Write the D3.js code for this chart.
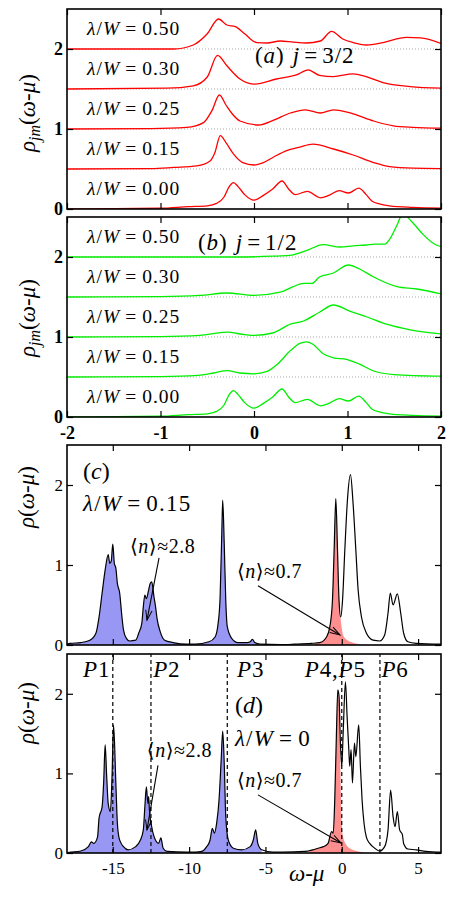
<!DOCTYPE html>
<html><head><meta charset="utf-8">
<script src="https://cdn.jsdelivr.net/npm/d3@7"></script>
<style>body{margin:0;background:#fff} svg{display:block}</style>
</head><body><svg id="fig" width="450" height="900"></svg>
<script>
// ---------------- DATA ----------------
const xTicksAB = [-2, -1, 0, 1, 2];
const yTicksAB = [0, 1, 2];
const xTicksCD = [-15, -10, -5, 0, 5];
const yTicksCD = [0, 1, 2];
const lamLabels = ["0.00", "0.15", "0.25", "0.30", "0.50"];
const offsets = [0, 0.5, 1.0, 1.5, 2.0];

// panel (a) j=3/2, values relative to each curve's offset
const j32_L000 = [[-2,0],[-1.5,0.005],[-1.0,0.01],[-0.7,0.03],[-0.5,0.04],[-0.4,0.07],[-0.32,0.15],[-0.27,0.27],[-0.22,0.33],[-0.17,0.28],[-0.1,0.18],[0,0.11],[0.1,0.17],[0.2,0.25],[0.30,0.35],[0.37,0.25],[0.44,0.18],[0.57,0.22],[0.71,0.14],[0.80,0.17],[0.91,0.23],[1.01,0.20],[1.12,0.26],[1.2,0.18],[1.26,0.10],[1.35,0.06],[1.45,0.04],[1.7,0.02],[2.0,0.01]];
const j32_L015 = [[-2,0],[-1.1,0.005],[-0.86,0.02],[-0.61,0.04],[-0.47,0.1],[-0.42,0.2],[-0.36,0.417],[-0.3,0.33],[-0.22,0.19],[-0.12,0.08],[0,0.05],[0.1,0.08],[0.21,0.15],[0.35,0.23],[0.48,0.27],[0.63,0.31],[0.85,0.25],[1.06,0.175],[1.28,0.08],[1.45,0.03],[1.7,0.01],[2.0,0.005]];
const j32_L025 = [[-2,0],[-1.1,0.005],[-0.72,0.02],[-0.54,0.08],[-0.45,0.23],[-0.37,0.425],[-0.3,0.3],[-0.24,0.2],[-0.15,0.10],[0.05,0.05],[0.21,0.11],[0.39,0.20],[0.55,0.24],[0.71,0.20],[0.85,0.24],[1.06,0.19],[1.28,0.10],[1.49,0.04],[1.7,0.02],[2.0,0.01]];
const j32_L030 = [[-2,0],[-0.93,0.01],[-0.65,0.04],[-0.5,0.15],[-0.39,0.42],[-0.29,0.29],[-0.15,0.125],[0.01,0.06],[0.24,0.125],[0.46,0.18],[0.58,0.24],[0.7,0.17],[0.85,0.155],[1.06,0.19],[1.2,0.155],[1.38,0.08],[1.67,0.03],[2.0,0.01]];
const j32_L050 = [[-2,0],[-0.86,0.0],[-0.65,0.05],[-0.5,0.19],[-0.38,0.375],[-0.29,0.30],[-0.20,0.28],[-0.1,0.19],[0.03,0.08],[0.14,0.075],[0.28,0.10],[0.42,0.085],[0.56,0.075],[0.71,0.10],[0.83,0.22],[0.95,0.125],[1.06,0.08],[1.2,0.05],[1.38,0.08],[1.63,0.145],[1.78,0.14],[2.0,0.07]];

// panel (b) j=1/2
const j12_L000 = j32_L000;
const j12_L015 = [[-2,0],[-1.0,0.005],[-0.6,0.02],[-0.43,0.05],[-0.29,0.08],[-0.15,0.05],[0,0.04],[0.14,0.07],[0.25,0.16],[0.39,0.33],[0.49,0.42],[0.56,0.44],[0.63,0.41],[0.74,0.29],[0.85,0.24],[0.99,0.22],[1.13,0.16],[1.28,0.075],[1.5,0.03],[2.0,0.01]];
const j12_L025 = [[-2,0],[-1.0,0.005],[-0.58,0.02],[-0.29,0.06],[-0.1,0.03],[0,0.02],[0.2,0.05],[0.39,0.16],[0.53,0.2],[0.70,0.31],[0.85,0.40],[1.03,0.32],[1.21,0.25],[1.42,0.16],[1.67,0.09],[2.0,0.04]];
const j12_L030 = [[-2,0],[-1.0,0.005],[-0.58,0.02],[-0.29,0.05],[0,0.02],[0.28,0.06],[0.42,0.13],[0.53,0.17],[0.62,0.17],[0.70,0.25],[0.85,0.30],[1.01,0.40],[1.13,0.35],[1.28,0.25],[1.53,0.13],[1.74,0.10],[2.0,0.04]];
const j12_L050 = [[-2,0],[-0.2,0.0],[0.2,0.01],[0.38,0.02],[0.56,0.08],[0.74,0.155],[0.92,0.125],[1.06,0.14],[1.2,0.15],[1.30,0.16],[1.40,0.16],[1.45,0.22],[1.53,0.40],[1.6,0.56],[1.65,0.49],[1.72,0.40],[1.81,0.28],[1.95,0.15],[2.0,0.13]];

// panel (c) lambda/W = 0.15 total DOS, and red partial
const totC = [[-18,0.01],[-17.8,0.02],[-17.1,0.03],[-16.5,0.06],[-16.1,0.15],[-15.9,0.35],[-15.7,0.65],[-15.5,0.94],[-15.3,1.13],[-15.2,1.02],[-15.1,1.05],[-15.0,1.26],[-14.9,1.02],[-14.8,0.96],[-14.7,0.77],[-14.55,0.65],[-14.4,0.35],[-14.3,0.19],[-14.1,0.08],[-13.9,0.05],[-13.5,0.06],[-13.3,0.15],[-13.1,0.27],[-13.0,0.48],[-12.9,0.625],[-12.8,0.58],[-12.65,0.69],[-12.55,0.77],[-12.45,0.79],[-12.3,0.60],[-12.2,0.48],[-12.1,0.33],[-11.9,0.17],[-11.6,0.06],[-11.05,0.03],[-10.15,0.01],[-9.6,0.01],[-8.7,0.04],[-8.3,0.10],[-8.1,0.27],[-7.97,0.60],[-7.86,1.40],[-7.8,1.81],[-7.7,1.27],[-7.6,0.56],[-7.5,0.23],[-7.2,0.08],[-6.8,0.03],[-6.2,0.03],[-6.0,0.04],[-5.85,0.07],[-5.7,0.03],[-5.36,0.01],[-4,0.005],[-3.1,0.01],[-2.0,0.02],[-1.44,0.03],[-1.0,0.10],[-0.78,0.23],[-0.61,0.56],[-0.5,1.19],[-0.39,1.83],[-0.28,1.19],[-0.18,0.56],[-0.07,0.35],[0.05,0.56],[0.2,1.19],[0.37,1.81],[0.57,2.13],[0.74,1.77],[0.92,1.19],[1.07,0.69],[1.29,0.35],[1.61,0.15],[2.05,0.06],[2.48,0.05],[2.81,0.125],[3.03,0.40],[3.18,0.65],[3.36,0.50],[3.64,0.64],[3.86,0.40],[4.05,0.15],[4.33,0.04],[4.88,0.02],[6.5,0.01]];
const redC = [[-1.8,0.02],[-1.44,0.03],[-1.0,0.10],[-0.78,0.23],[-0.61,0.56],[-0.5,1.19],[-0.39,1.83],[-0.28,1.1],[-0.18,0.55],[-0.07,0.32],[0.1,0.12],[0.3,0.07],[0.57,0.04],[1.0,0.015],[1.4,0]];
const blueCutC = -5.2;

// panel (d) lambda/W = 0
const totD = [[-18,0.005],[-17.8,0.01],[-17.1,0.025],[-16.6,0.08],[-16.4,0.14],[-16.25,0.12],[-16.0,0.2],[-15.9,0.44],[-15.7,0.58],[-15.6,0.88],[-15.5,1.36],[-15.4,0.96],[-15.3,0.62],[-15.16,0.52],[-15.05,0.96],[-14.95,1.61],[-14.8,0.88],[-14.7,0.37],[-14.6,0.2],[-14.5,0.14],[-14.3,0.08],[-14.0,0.04],[-13.5,0.08],[-13.2,0.16],[-13.0,0.29],[-12.9,0.58],[-12.8,0.83],[-12.7,0.62],[-12.65,0.71],[-12.6,0.54],[-12.45,0.33],[-12.2,0.16],[-12.0,0.12],[-11.85,0.19],[-11.7,0.06],[-11.45,0.02],[-10.15,0.01],[-9.6,0.01],[-9.17,0.02],[-8.85,0.08],[-8.63,0.16],[-8.48,0.31],[-8.35,0.25],[-8.2,0.37],[-8.04,0.67],[-7.9,1.17],[-7.8,1.53],[-7.7,1.13],[-7.6,0.46],[-7.43,0.16],[-7.1,0.06],[-6.55,0.04],[-6.0,0.08],[-5.8,0.16],[-5.64,0.29],[-5.5,0.12],[-5.25,0.04],[-4.5,0.01],[-3.9,0.01],[-2.4,0.02],[-1.9,0.04],[-1.55,0.06],[-1.2,0.08],[-0.9,0.12],[-0.67,0.27],[-0.56,0.25],[-0.46,0.67],[-0.35,1.5],[-0.26,2.05],[-0.18,1.97],[-0.09,1.38],[0.0,1.09],[0.09,1.5],[0.24,2.15],[0.35,1.71],[0.46,1.3],[0.52,1.09],[0.61,1.3],[0.7,0.88],[0.83,1.38],[0.92,1.21],[1.11,1.61],[1.22,1.09],[1.33,0.67],[1.46,0.37],[1.61,0.2],[1.83,0.12],[2.16,0.06],[2.48,0.025],[2.81,0.08],[3.03,0.29],[3.2,0.79],[3.36,0.46],[3.49,0.33],[3.64,0.52],[3.79,0.29],[3.97,0.23],[4.05,0.12],[4.33,0.05],[4.88,0.04],[5.5,0.02],[6.5,0.01]];
const redD = [[-2.1,0.03],[-1.9,0.04],[-1.55,0.06],[-1.2,0.08],[-0.9,0.12],[-0.67,0.27],[-0.56,0.25],[-0.46,0.67],[-0.35,1.5],[-0.26,2.05],[-0.18,1.9],[-0.09,1.05],[0.0,0.37],[0.09,0.2],[0.3,0.1],[0.6,0.05],[1.2,0.015],[1.6,0]];
const blueCutD = -5.0;
const peakLines = [-15, -12.5, -7.5, 0, 2.5];
const peakNames = ["P1", "P2", "P3", "P4,P5", "P6"];
const peakNameX = [-16.95, -12.35, -6.86, -2.42, 2.6];

// ---------------- DRAWING ----------------
const svg = d3.select("#fig");
const FONT = "'Liberation Serif','DejaVu Serif',serif";
const L = 67, R = 441;
const defs = svg.append("defs");
defs.append("marker").attr("id","arr").attr("viewBox","-12 -6 14 12")
  .attr("refX",0).attr("refY",0).attr("markerWidth",14).attr("markerHeight",12)
  .attr("markerUnits","userSpaceOnUse").attr("orient","auto")
  .append("path").attr("d","M-10,-3.2L0,0L-10,3.2").attr("fill","none").attr("stroke","#000").attr("stroke-width",1);

function makePanel(id, top, bottom, xdom, ydom){
  const x = d3.scaleLinear().domain(xdom).range([L,R]);
  const y = d3.scaleLinear().domain(ydom).range([bottom,top]);
  defs.append("clipPath").attr("id","clip-"+id).append("rect")
    .attr("x",L).attr("y",top).attr("width",R-L).attr("height",bottom-top);
  const g = svg.append("g").attr("clip-path",`url(#clip-${id})`);
  return {x,y,g,top,bottom};
}

function frame(p, xticks, yticks, showX, bold, fsize){
  const fmt = d => String(d);
  const style = sel => sel.selectAll("text").attr("font-family",FONT).attr("font-size",fsize)
      .attr("font-weight", bold ? "bold" : "normal").attr("fill","#000");
  const clean = sel => { sel.select(".domain").remove(); sel.selectAll(".tick line").attr("stroke","#000").attr("stroke-width",1.2); };
  const gb = svg.append("g").attr("transform",`translate(0,${p.bottom})`)
    .call(d3.axisBottom(p.x).tickValues(xticks).tickSize(-6).tickPadding(9).tickFormat(showX ? fmt : ""));
  clean(gb); style(gb);
  const gt = svg.append("g").attr("transform",`translate(0,${p.top})`)
    .call(d3.axisTop(p.x).tickValues(xticks).tickSize(-6).tickFormat(""));
  clean(gt);
  const gl = svg.append("g").attr("transform",`translate(${L},0)`)
    .call(d3.axisLeft(p.y).tickValues(yticks).tickSize(-6).tickPadding(4).tickFormat(fmt));
  clean(gl); style(gl);
  const gr = svg.append("g").attr("transform",`translate(${R},0)`)
    .call(d3.axisRight(p.y).tickValues(yticks).tickSize(-6).tickFormat(""));
  clean(gr);
  svg.append("rect").attr("x",L).attr("y",p.top).attr("width",R-L).attr("height",p.bottom-p.top)
    .attr("fill","none").attr("stroke","#000").attr("stroke-width",1.6);
}

function rich(parent, x, y, parts, size, ls){
  const t = parent.append("text").attr("x",x).attr("y",y).attr("font-family",FONT).attr("font-size",size).attr("fill","#000");
  if (ls) t.attr("letter-spacing", ls);
  parts.forEach(([s, it, dx]) => {
    const ts = t.append("tspan").text(s);
    if (it) ts.attr("font-style","italic");
    if (dx) ts.attr("dx",dx);
  });
  return t;
}
const lamParts = v => [["λ",true],["/",false],["W",true],["=",false,5],[v,false,5]];

function ylabel(cx, cy, sub){
  const t = svg.append("text").attr("transform",`translate(${cx},${cy}) rotate(-90)`)
    .attr("text-anchor","middle").attr("font-family",FONT).attr("font-size",23).attr("fill","#000");
  t.append("tspan").attr("font-style","italic").text("ρ");
  if (sub){
    t.append("tspan").attr("font-style","italic").attr("font-size",16).attr("dy",5).text(sub);
    t.append("tspan").attr("dy",-5).text("(");
  } else t.append("tspan").text("(");
  t.append("tspan").attr("font-style","italic").text("ω");
  t.append("tspan").text("-");
  t.append("tspan").attr("font-style","italic").text("μ");
  t.append("tspan").text(")");
}

// ---- panels (a) and (b)
function stackPanel(id, top, bottom, curves, color, title, titlePos, showX){
  const p = makePanel(id, top, bottom, [-2,2], [0,2.5]);
  offsets.slice(1).forEach(o => {
    p.g.append("line").attr("x1",p.x(-2)).attr("x2",p.x(2)).attr("y1",p.y(o)).attr("y2",p.y(o))
      .attr("stroke","#aaa").attr("stroke-width",1).attr("stroke-dasharray","1,2");
  });
  curves.forEach((c,i) => {
    const line = d3.line().x(d=>p.x(d[0])).y(d=>p.y(d[1]+offsets[i])).curve(d3.curveMonotoneX);
    p.g.append("path").attr("d",line(c)).attr("fill","none").attr("stroke",color).attr("stroke-width",1.3);
  });
  lamLabels.forEach((lab,i) => {
    rich(svg, p.x(-1.786), p.y(offsets[i]+0.18), lamParts(lab), 19.5, 1);
  });
  rich(svg, p.x(titlePos[0]), p.y(titlePos[1]), title, 23, 1);
  frame(p, xTicksAB, yTicksAB, showX, true, 18);
  return p;
}
const pa = stackPanel("a", 9, 209, [j32_L000,j32_L015,j32_L025,j32_L030,j32_L050], "#ff0000",
  [["(",false],["a",true],[")",false],["j",true,8],["=",false,4],["3/2",false,4]], [0.01,1.825], false);
const pb = stackPanel("b", 217, 417, [j12_L000,j12_L015,j12_L025,j12_L030,j12_L050], "#00ee00",
  [["(",false],["b",true],[")",false],["j",true,8],["=",false,4],["1/2",false,4]], [-0.6,2.09], true);
ylabel(35, 113, "jm");
ylabel(35, 318, "jm");

// ---- panels (c) and (d)
function dosPanel(id, top, bottom, tot, red, cut){
  const p = makePanel(id, top, bottom, [-18,6.5], [0,2.5]);
  const area = d3.area().x(d=>p.x(d[0])).y0(p.y(0)).y1(d=>p.y(d[1])).curve(d3.curveMonotoneX);
  p.g.append("path").attr("d",area(tot.filter(d=>d[0]<=cut))).attr("fill","#9898f4").attr("stroke","none");
  p.g.append("path").attr("d",area(red)).attr("fill","#ff8e8e").attr("stroke","none");
  const line = d3.line().x(d=>p.x(d[0])).y(d=>p.y(d[1])).curve(d3.curveMonotoneX);
  p.g.append("path").attr("d",line(tot)).attr("fill","none").attr("stroke","#000").attr("stroke-width",1.2);
  return p;
}
function arrow(p, tail, tip){
  svg.append("line").attr("x1",p.x(tail[0])).attr("y1",p.y(tail[1])).attr("x2",p.x(tip[0])).attr("y2",p.y(tip[1]))
    .attr("stroke","#000").attr("stroke-width",1.1).attr("marker-end","url(#arr)");
}
const nParts = v => [["⟨",false],["n",true],["⟩",false],["≈",false],[v,false]];

const pc = dosPanel("c", 445, 645, totC, redC, blueCutC);
rich(svg, pc.x(-16.95), pc.y(2.07), [["(",false],["c",true],[")",false]], 24);
rich(svg, pc.x(-16.95), pc.y(1.675), lamParts("0.15"), 23, 1.2);
rich(svg, pc.x(-13.87), pc.y(1.15), nParts("2.8"), 20, 0.5);
rich(svg, pc.x(-6.87), pc.y(0.84), nParts("0.7"), 20, 0.5);
arrow(pc, [-11.97,1.09], [-12.76,0.31]);
arrow(pc, [-5.49,0.74], [-0.12,0.125]);
frame(pc, xTicksCD, yTicksCD, false, false, 17);

const pd = dosPanel("d", 654, 853, totD, redD, blueCutD);
peakLines.forEach(v => {
  svg.append("line").attr("x1",pd.x(v)).attr("x2",pd.x(v)).attr("y1",pd.y(0)).attr("y2",pd.y(2.5))
    .attr("stroke","#000").attr("stroke-width",1.2).attr("stroke-dasharray","4,3");
});
peakNames.forEach((nm,i) => {
  const parts = nm.split(",");
  const seg = [];
  parts.forEach((s,k) => { if (k>0) seg.push([",",false]); seg.push(["P",true]); seg.push([s.slice(1),false]); });
  rich(svg, pd.x(peakNameX[i]), pd.y(2.21), seg, 23, 0.8);
});
rich(svg, pd.x(-7.0), pd.y(1.76), [["(",false],["d",true],[")",false]], 24);
rich(svg, pd.x(-7.0), pd.y(1.34), lamParts("0"), 23, 1.2);
rich(svg, pd.x(-12.77), pd.y(1.2), nParts("2.8"), 20, 0.5);
rich(svg, pd.x(-6.87), pd.y(0.83), nParts("0.7"), 20, 0.5);
arrow(pd, [-12.04,1.1], [-12.76,0.29]);
arrow(pd, [-5.49,0.73], [-0.05,0.125]);
frame(pd, xTicksCD, yTicksCD, true, false, 17);
ylabel(34, 497, null);
ylabel(34, 713, null);
// x label
const xl = svg.append("text").attr("x",pd.x(-2.3)).attr("y",881).attr("text-anchor","middle")
  .attr("font-family",FONT).attr("font-size",23).attr("fill","#000");
xl.append("tspan").attr("font-style","italic").text("ω");
xl.append("tspan").text("-");
xl.append("tspan").attr("font-style","italic").text("μ");
</script></body></html>
